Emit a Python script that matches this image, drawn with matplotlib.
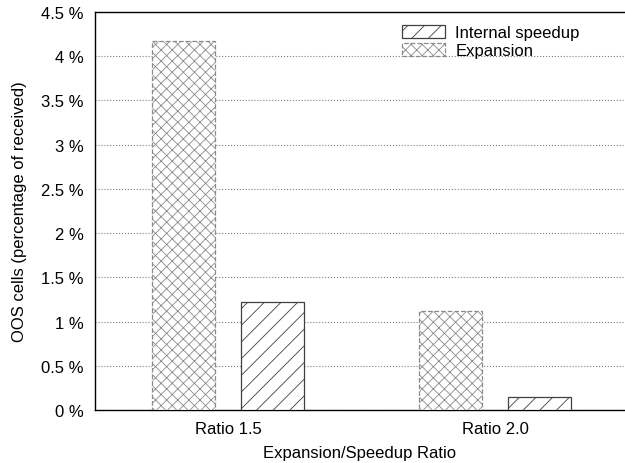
import matplotlib
matplotlib.use("Agg")
import numpy as np
import matplotlib.pyplot as plt

plt.rcParams['font.family'] = ['Liberation Sans', 'DejaVu Sans']
plt.rcParams['hatch.linewidth'] = 0.6

ratios = ['Ratio 1.5', 'Ratio 2.0']
expansion = [4.17, 1.12]
speedup = [1.22, 0.15]
yticks = [0, 0.5, 1, 1.5, 2, 2.5, 3, 3.5, 4, 4.5]


def draw_graph():
    fig = plt.figure(figsize=(6.25, 4.64), dpi=100)
    ax = fig.add_axes([0.152, 0.114, 0.848, 0.858])
    x = np.arange(len(ratios))
    w = 0.236
    off = 0.168

    ax.bar(x - off, expansion, w, color='white', edgecolor='#8a8a8a', hatch='xxx',
           linestyle='--', linewidth=0.9, label='Expansion', zorder=3)
    ax.bar(x + off, speedup, w, color='white', edgecolor='#404040', hatch='//',
           linewidth=0.9, label='Internal speedup', zorder=3)

    ax.set_xlim(-0.498, 1.487)
    ax.set_ylim(0, 4.5)
    ax.set_yticks(yticks)
    ax.set_yticklabels(['%g %%' % v for v in yticks], fontsize=12)
    ax.set_xticks(x)
    ax.set_xticklabels(ratios, fontsize=12)
    ax.tick_params(length=0, pad=8)
    ax.yaxis.grid(True, linestyle=':', color='#808080', linewidth=0.8, zorder=0)
    ax.spines['right'].set_visible(False)
    for s in ['left', 'top', 'bottom']:
        ax.spines[s].set_linewidth(1.0)

    ax.set_xlabel('Expansion/Speedup Ratio', fontsize=12, labelpad=6)
    ax.set_ylabel('OOS cells (percentage of received)', fontsize=12, labelpad=10)

    h, l = ax.get_legend_handles_labels()
    ax.legend(h[::-1], l[::-1], loc='upper right', bbox_to_anchor=(0.94, 1.0),
              frameon=False, fontsize=12, handlelength=2.6, handleheight=0.8,
              handletextpad=0.6, labelspacing=0.15, borderpad=0.3)

    fig.savefig('out.png', dpi=100)


if __name__ == "__main__":
    draw_graph()
